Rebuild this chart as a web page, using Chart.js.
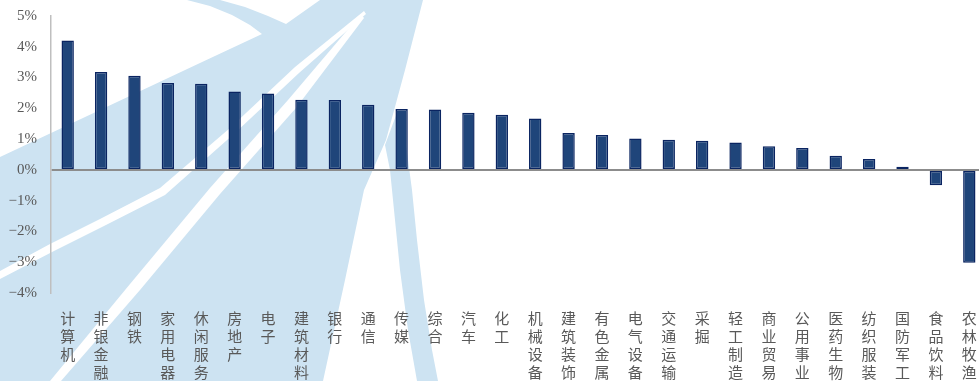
<!DOCTYPE html>
<html>
<head>
<meta charset="utf-8">
<script src="https://cdn.jsdelivr.net/npm/chart.js@4/dist/chart.umd.min.js"></script>
<style>
  html, body { margin: 0; padding: 0; background: #ffffff; overflow: hidden; width: 979px; height: 381px; }
  #wrap { position: absolute; left: 0; top: 0; width: 987px; height: 381px; }
</style>
</head>
<body>
<div id="wrap"><canvas id="c" width="987" height="381"></canvas></div>
<script>
const categories = ['计算机','非银金融','钢铁','家用电器','休闲服务','房地产','电子','建筑材料','银行','通信','传媒','综合','汽车','化工','机械设备','建筑装饰','有色金属','电气设备','交通运输','采掘','轻工制造','商业贸易','公用事业','医药生物','纺织服装','国防军工','食品饮料','农林牧渔'];
const changePct = [4.20, 3.18, 3.06, 2.82, 2.80, 2.55, 2.48, 2.28, 2.27, 2.12, 1.98, 1.96, 1.86, 1.79, 1.67, 1.20, 1.13, 1.02, 0.98, 0.95, 0.89, 0.77, 0.71, 0.46, 0.35, 0.10, -0.50, -3.02];
const yTicks = [-4, -3, -2, -1, 0, 1, 2, 3, 4, 5];

function poly(ctx, pts, color) {
  ctx.fillStyle = color;
  ctx.beginPath();
  ctx.moveTo(pts[0][0], pts[0][1]);
  for (let i = 1; i < pts.length; i++) ctx.lineTo(pts[i][0], pts[i][1]);
  ctx.closePath();
  ctx.fill();
}

const watermark = {
  id: 'watermark',
  beforeDraw(chart) {
    const ctx = chart.ctx;
    const blue = '#cde3f2', white = '#ffffff';
    ctx.save();
    poly(ctx, [[0,0],[423,0],[405,70],[386,140],[364,190],[345,280],[323,381],[0,381]], blue);
    poly(ctx, [[398,110],[406,145],[412,190],[417,240],[424,300],[432,350],[438,381],[417,381],[408,330],[400,270],[394,210],[390,170],[385,145]], blue);
    poly(ctx, [[0,0],[187,0],[210,6],[232,15],[250,25],[262,34],[200,63],[100,110],[0,157]], white);
    poly(ctx, [[220,0],[320,0],[286,24],[268,16],[245,7]], white);
    poly(ctx, [[0,271],[50,244],[100,219],[160,188],[230,128],[295,67],[364,11],[366,14],[299,73],[235,133],[165,195],[104,226],[54,251],[0,279]], white);
    poly(ctx, [[50,381],[130,284],[210,188],[288,100],[361,14],[364,18],[296,108],[220,194],[140,290],[61,381]], white);
    ctx.restore();
  }
};

new Chart(document.getElementById('c'), {
  type: 'bar',
  data: {
    labels: categories.map(s => s.split('')),
    datasets: [{
      data: changePct,
      backgroundColor: '#1f457a',
      borderColor: '#0a2461',
      borderWidth: 1.5,
      borderSkipped: false,
      barPercentage: 0.37,
      categoryPercentage: 1.0
    }]
  },
  options: {
    responsive: false,
    animation: false,
    devicePixelRatio: 1,
    layout: { padding: { top: 16, right: 1, left: 0, bottom: 0 } },
    plugins: { legend: { display: false }, tooltip: { enabled: false } },
    scales: {
      x: {
        offset: true,
        grid: { display: false, drawTicks: false },
        border: { display: false },
        ticks: {
          color: '#595959',
          font: { family: 'Noto Sans CJK SC', size: 15, lineHeight: 1.2 },
          maxRotation: 0, minRotation: 0, autoSkip: false,
          padding: 16
        },
        afterFit(s) { s.height = 88; s.paddingLeft = 0; s.paddingRight = 0; }
      },
      y: {
        min: -4, max: 5,
        afterBuildTicks(s) { s.ticks = yTicks.map(v => ({ value: v })); },
        ticks: {
          color: '#595959',
          font: { family: 'Liberation Serif', size: 15 },
          padding: 14,
          callback: v => String(v).replace('-', '−') + '%'
        },
        grid: {
          drawTicks: false,
          color: c => (c.tick && c.tick.value === 0) ? '#8c8c8c' : 'rgba(0,0,0,0)',
          lineWidth: 2
        },
        border: { display: true, color: '#bfbfbf', width: 1.5 },
        afterFit(s) { s.width = 51; s.paddingTop = 0; s.paddingBottom = 0; }
      }
    }
  },
  plugins: [watermark]
});
</script>
</body>
</html>
